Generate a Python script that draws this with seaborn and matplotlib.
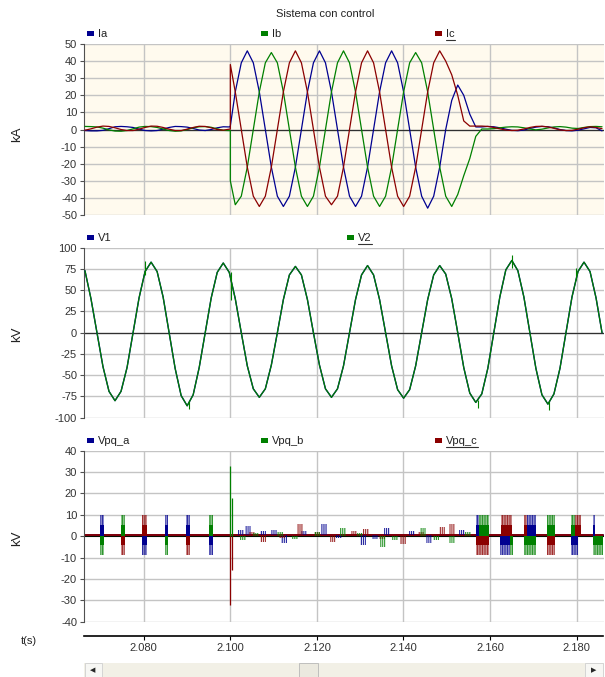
import numpy as np
import matplotlib
matplotlib.use("Agg")
import matplotlib.pyplot as plt
import seaborn as sns
from matplotlib.colors import to_rgba
from matplotlib.lines import Line2D
from matplotlib.patches import Rectangle

# muestreo: 30 grados de 60 Hz (1/720 s)
T0 = 2.06642
DT = 1 / 720
N = 87
T_FAULT = 2.1000
T_MIN, T_MAX = 2.0662, 2.1862
x_ticks = [2.080, 2.100, 2.120, 2.140, 2.160, 2.180]

# --- corrientes (kA) ---
ia_pre = [-0.6, -0.8, -0.8, -0.5, 0.5, 1.6, 1.8, 1.6, 1.2, 0.2, -0.6, -0.8, -0.6,
          0.2, 1.2, 1.8, 1.7, 1.4, 0.6, -0.3, -0.6, 0.0, 1.0, 1.6, 1.5]
ib_pre = [1.8, 1.7, 1.5, 0.8, -0.2, -0.9, -1.0, -0.6, 0.4, 1.4, 1.8, 1.7, 1.2,
          0.3, -0.6, -1.0, -0.8, 0.0, 1.0, 1.6, 1.7, 1.3, 0.4, -0.5, -0.6]
ic_pre = [-0.4, 0.4, 1.4, 2.0, 1.8, 1.0, 0.0, -0.6, -0.6, 0.2, 1.2, 2.0, 1.9,
          1.2, 0.2, -0.6, -0.6, 0.2, 1.2, 1.9, 1.8, 1.0, 0.0, -0.4, 0.2]
ia_start, ib_start, ic_start = 2.0, -30, 38
ia_post = [22, 39, 46, 39, 22, 0, -22, -39, -45, -39, -22, 0, 22, 39, 46, 39, 22,
           0, -22, -39, -45, -39, -22, 0, 22, 39, 46, 39, 22, 0, -22, -39, -46,
           -39, -22, 0, 17, 26, 20, 9, 1.5,
           1.5, 1.8, 1.6, 1.0, 0.2, -0.5, -0.7, -0.3, 0.6, 1.4, 1.8, 1.6, 1.0,
           0.0, -0.6, -0.8, -0.4, 0.4, 1.2, 1.0, -0.8]
ib_post = [-44, -39, -22, 0, 22, 39, 45, 39, 22, 0, -22, -39, -45, -39, -22, 0,
           22, 39, 46, 39, 22, 0, -22, -39, -45, -39, -22, 0, 22, 39, 45, 39, 22,
           0, -22, -39, -45, -38, -27, -17, -4, 0.3,
           0.3, 0.5, 1.0, 1.4, 1.6, 1.5, 1.0, 0.3, -0.2, 0.2, 0.9, 1.5, 1.7, 1.4,
           0.8, 0.6, 1.2, 1.7, 1.8, 1.6]
ic_post = [22, 0, -22, -39, -45, -39, -22, 0, 22, 39, 46, 39, 22, 0, -22, -39,
           -44, -39, -22, 0, 22, 39, 46, 39, 22, 0, -22, -39, -45, -39, -22, 0,
           22, 39, 46, 40, 32, 20, 5, 2,
           2.0, 2.0, 1.8, 1.2, 0.4, -0.3, -0.6, -0.4, 0.3, 1.2, 1.8, 1.9, 1.5,
           0.7, -0.2, -0.6, -0.5, 0.2, 1.0, 1.6, 1.2, 0.5]

# --- tensiones (kV) ---
v1 = [73, 40, 0, -40, -69, -80, -69, -41, 0, 41, 72, 83, 72, 42, 0, -42, -74, -86,
      -73, -41, 0, 41, 71, 82, 71, 40, 0, -39, -66, -76, -66, -38, 0, 39, 68, 78,
      68, 39, 0, -38, -66, -76, -66, -39, 0, 39, 68, 79, 68, 39, 0, -39, -67, -77,
      -67, -39, 0, 39, 68, 79, 69, 40, 0, -41, -71, -82, -72, -42, 0, 42, 74, 85,
      73, 42, 0, -42, -73, -84, -72, -42, 0, 42, 72, 83, 72, 41, 0]
v2 = list(v1)
v2_spk_t = [2.0803, 2.0905, 2.1002, 2.1572, 2.1650, 2.1736, 2.1799]
v2_spk_lo = [68, -90, 38, -89, 76, -91, 62]
v2_spk_hi = [84, -80, 72, -79, 92, -80, 76]

# --- Vpq (kV) ---
pulse_phase = ["a", "b", "b", "c", "c", "a", "a", "b", "a", "c", "b", "a",
               "a", "b", "c", "c", "a", "b", "c", "a", "b", "b", "c",
               "b", "c", "a", "a", "b"]
pulse_start = [2.0699, 2.0699, 2.0747, 2.0747, 2.0797, 2.0797, 2.0848, 2.0848,
               2.0898, 2.0898, 2.0950, 2.0950,
               2.1567, 2.1575, 2.1567, 2.1625, 2.1624, 2.1645, 2.1678, 2.1686,
               2.1678, 2.1732, 2.1732, 2.1786, 2.1797, 2.1786, 2.1837, 2.1837]
pulse_end = [2.0708, 2.0708, 2.0757, 2.0757, 2.0807, 2.0807, 2.0857, 2.0857,
             2.0907, 2.0907, 2.0959, 2.0959,
             2.1575, 2.1598, 2.1598, 2.1651, 2.1645, 2.1653, 2.1686, 2.1705,
             2.1705, 2.1751, 2.1751, 2.1797, 2.1810, 2.1804, 2.1843, 2.1862]
pulse_sign = [1, -1, 1, -1, 1, -1, 1, -1, 1, -1, 1, -1,
              1, 1, -1, 1, -1, -1, 1, 1, -1, 1, -1, 1, 1, -1, 1, -1]
line_hi, line_lo = 10, -9
block_hi, block_lo = 5, -4

# rizado durante la falla
noise_phase = ["a"] * 14 + ["c"] * 13 + ["b"] * 13
noise_t = [2.1025, 2.1040, 2.1075, 2.1100, 2.1124, 2.1170, 2.1216, 2.1250,
           2.1306, 2.1335, 2.1361, 2.1420, 2.1460, 2.1535,
           2.1050, 2.1076, 2.1120, 2.1161, 2.1200, 2.1237, 2.1285, 2.1313,
           2.1350, 2.1398, 2.1440, 2.1490, 2.1513,
           2.1030, 2.1060, 2.1115, 2.1150, 2.1200, 2.1260, 2.1300, 2.1352,
           2.1380, 2.1444, 2.1475, 2.1513, 2.1550]
noise_amp = [2, 4, 1.5, 2, -4, 1.5, 5, -1.5, -5, -2, 3, 1.5, -4, 2,
             1.5, -3, -1.5, 5, 1.5, -3, 2, 3, -2, -4, 1.5, 4, 5,
             -2, 1.5, 2, -1.5, 2, 4, 1.5, -5, -2, 4, -2, -3, 2]

spike_phase = ["b", "b", "c", "c"]
spike_t = [2.1000, 2.1003, 2.1000, 2.1003]
spike_v = [33, 18, -32, -16]

rest_level = {"a": 0.7, "b": 0.0, "c": 0.5}
rest_z = {"a": 2.3, "b": 2.0, "c": 2.5}
colors = {"a": "#000090", "b": "#008000", "c": "#8b0000"}

t_grid = T0 + np.arange(N) * DT


def with_fault(pre, start, post):
    n = len(pre)
    t = np.concatenate([t_grid[:n], [T_FAULT, T_FAULT], t_grid[n:n + len(post)]])
    v = list(pre) + [pre[-1], start] + list(post)
    return t, v


sns.set_theme(style="white")
plt.rcParams["font.family"] = ["Liberation Sans", "DejaVu Sans"]
plt.rcParams["axes.unicode_minus"] = False
plt.rcParams["hatch.linewidth"] = 0.7

fig = plt.figure(figsize=(6.05, 6.77), dpi=100)
L, W = 84 / 605, 519.5 / 605
ax1 = fig.add_axes([L, 0.6824, W, 0.2526])
ax2 = fig.add_axes([L, 0.3830, W, 0.2511])
ax3 = fig.add_axes([L, 0.0817, W, 0.2526])


def style(ax, lo, hi, step, bg):
    ax.set_facecolor(bg)
    ax.set_xlim(T_MIN, T_MAX)
    ax.set_ylim(lo, hi)
    ax.set_yticks(np.arange(lo, hi + 1, step))
    ax.set_xticks(x_ticks)
    ax.grid(True, color="#c4c4c4", lw=1.0)
    ax.set_axisbelow(True)
    for s in ["top", "right", "bottom"]:
        ax.spines[s].set_visible(False)
    ax.spines["left"].set_color("#505050")
    ax.spines["left"].set_linewidth(0.8)
    ax.tick_params(axis="y", direction="out", length=3, width=0.8, color="#505050",
                   labelsize=8, labelcolor="#333333", pad=2, left=True)
    ax.tick_params(axis="x", length=0, labelbottom=False)
    ax.set_xlabel("")
    ax.set_ylabel("")


# panel 1: corrientes
for pre, start, post, ph in [(ia_pre, ia_start, ia_post, "a"),
                             (ib_pre, ib_start, ib_post, "b"),
                             (ic_pre, ic_start, ic_post, "c")]:
    t, v = with_fault(pre, start, post)
    sns.lineplot(x=t, y=v, ax=ax1, color=colors[ph], lw=0.9, sort=False,
                 estimator=None, zorder=3)
ax1.axhline(0, color="#303030", lw=0.9, zorder=2)
style(ax1, -50, 50, 10, "#fffaee")

# panel 2: tensiones
sns.lineplot(x=t_grid, y=v1, ax=ax2, color=colors["a"], lw=1.0, sort=False,
             estimator=None, zorder=3)
sns.lineplot(x=t_grid, y=v2, ax=ax2, color=colors["b"], lw=0.9, sort=False,
             estimator=None, zorder=4)
ax2.vlines(v2_spk_t, v2_spk_lo, v2_spk_hi, color=colors["b"], lw=0.8, zorder=4)
ax2.axhline(0, color="#303030", lw=0.9, zorder=2)
style(ax2, -100, 100, 25, "white")

# panel 3: Vpq
ax3.axhline(0, color="black", lw=1.3, zorder=2.2)
for ph in ["a", "b", "c"]:
    sns.lineplot(x=[T_MIN, T_MAX], y=[rest_level[ph]] * 2, ax=ax3,
                 color=colors[ph], lw=1.3, estimator=None, zorder=rest_z[ph])
for ph, t0, t1, sg in zip(pulse_phase, pulse_start, pulse_end, pulse_sign):
    c = colors[ph]
    ax3.bar((t0 + t1) / 2, line_hi if sg > 0 else line_lo, width=t1 - t0,
            bottom=0, color=to_rgba(c, 0.3), edgecolor=to_rgba(c, 0.75),
            hatch="|" * 10, lw=0, zorder=3)
    ax3.bar((t0 + t1) / 2, block_hi if sg > 0 else block_lo, width=t1 - t0,
            bottom=0, color=c, lw=0, zorder=3.5)
for ph, tn, a in zip(noise_phase, noise_t, noise_amp):
    c = colors[ph]
    ax3.bar(tn, a, width=0.0014, bottom=rest_level[ph], color=to_rgba(c, 0.12),
            edgecolor=to_rgba(c, 0.85), hatch="|" * 8, lw=0, zorder=3)
for ph, ts, vs in zip(spike_phase, spike_t, spike_v):
    ax3.vlines(ts, 0, vs, color=colors[ph], lw=0.9, zorder=4)
style(ax3, -40, 40, 10, "white")
ax3.spines["bottom"].set_visible(True)
ax3.spines["bottom"].set_position(("outward", 10))
ax3.spines["bottom"].set_color("black")
ax3.spines["bottom"].set_linewidth(1.2)
ax3.tick_params(axis="x", length=3, width=0.8, color="black", direction="out",
                labelbottom=True, labelsize=8, labelcolor="#333333", pad=2,
                bottom=True)
ax3.set_xticklabels([f"{x:.3f}" for x in x_ticks])

# textos
fig.text(325 / 605, 1 - 14 / 677, "Sistema con control", ha="center", va="center",
         fontsize=8, color="#222222")
for yc, lab in [(134, "kA"), (334, "kV"), (538, "kV")]:
    fig.text(17 / 605, 1 - yc / 677, lab, rotation=90, ha="center", va="center",
             fontsize=9.5, color="#222222")
fig.text(21 / 605, 1 - 641 / 677, "t(s)", ha="left", va="center", fontsize=8,
         color="#222222")

legend_items = [
    (34, [(87, "Ia", "a", False), (261, "Ib", "b", False), (435, "Ic", "c", True)]),
    (238, [(87, "V1", "a", False), (347, "V2", "b", True)]),
    (441, [(87, "Vpq_a", "a", False), (261, "Vpq_b", "b", False),
           (435, "Vpq_c", "c", True)]),
]
underlined = []
for yp, items in legend_items:
    for xp, name, ph, ul in items:
        fig.add_artist(Rectangle((xp / 605, 1 - (yp + 2) / 677), 7 / 605, 5 / 677,
                                 color=colors[ph], lw=0, transform=fig.transFigure))
        tx = fig.text((xp + 11) / 605, 1 - yp / 677, name, fontsize=8,
                      color="#222222", ha="left", va="center")
        if ul:
            underlined.append(tx)

# barra de desplazamiento
sb = fig.add_axes([L, 0, W, 14 / 677])
sb.set_xlim(0, 1)
sb.set_ylim(0, 1)
sb.axis("off")
sb.add_patch(Rectangle((0, 0), 1, 1, color="#f2f0e6", lw=0))
sb.add_patch(Rectangle((0.001, 0.02), 0.034, 0.96, fc="#f7f7f4", ec="#d0d0d0", lw=0.6))
sb.add_patch(Rectangle((0.965, 0.02), 0.034, 0.96, fc="#f7f7f4", ec="#d0d0d0", lw=0.6))
sb.add_patch(Rectangle((0.414, 0.02), 0.037, 0.96, fc="#ebe9df", ec="#b8b8b8", lw=0.6))
sb.text(0.017, 0.5, "◀", family="DejaVu Sans", fontsize=5, ha="center", va="center")
sb.text(0.982, 0.5, "▶", family="DejaVu Sans", fontsize=5, ha="center", va="center")

fig.canvas.draw()
r = fig.canvas.get_renderer()
for tx in underlined:
    bb = tx.get_window_extent(r).transformed(fig.transFigure.inverted())
    fig.add_artist(Line2D([bb.x0, bb.x1], [bb.y0 - 0.001] * 2, color="#333333",
                          lw=0.8, transform=fig.transFigure))

fig.savefig("out.png", dpi=100)
